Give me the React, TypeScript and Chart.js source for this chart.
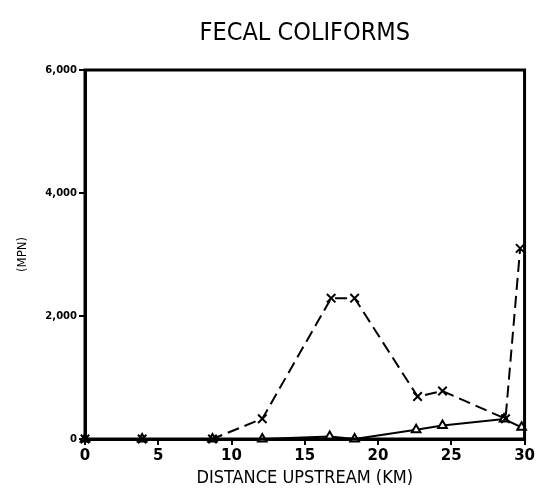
import React, { useEffect, useRef } from "react";
import { Chart, registerables } from "chart.js";

Chart.register(...registerables);

const titleText = "FECAL COLIFORMS";
const xTitle = "DISTANCE UPSTREAM (KM)";
const yTitle = "(MPN)";

const crossKm = [0, 3.9, 8.7, 12.1, 16.8, 18.4, 22.7, 24.4, 28.7, 29.7];
const crossMpn = [0, 0, 0, 330, 2290, 2290, 690, 780, 330, 3100];

const triKm = [0, 3.9, 8.7, 12.1, 16.7, 18.4, 22.6, 24.4, 28.6, 29.8];
const triMpn = [0, 0, 0, 0, 40, 0, 150, 220, 325, 190];

const xTicks = [0, 5, 10, 15, 20, 25, 30];
const yTicks = [0, 2000, 4000, 6000];

const boxPlugin = {
  id: "box",
  afterDatasetsDraw(chart: any) {
    const { ctx, chartArea } = chart;
    ctx.save();
    ctx.strokeStyle = "#000";
    ctx.lineWidth = 3;
    ctx.strokeRect(chartArea.left, chartArea.top, chartArea.right - chartArea.left, chartArea.bottom - chartArea.top);
    ctx.restore();
  },
};

export default function App() {
  const ref = useRef<HTMLCanvasElement | null>(null);
  useEffect(() => {
    document.body.style.margin = "0";
    const canvas = ref.current!;
    const chart = new Chart(canvas, {
      type: "line",
      data: {
        datasets: [
          {
            label: "X",
            data: crossKm.map((x, i) => ({ x, y: crossMpn[i] })),
            borderColor: "#000",
            borderWidth: 2,
            borderDash: [12, 6],
            pointStyle: "crossRot",
            pointRadius: 6,
            pointBorderWidth: 2,
            pointBorderColor: "#000",
            pointBackgroundColor: "#fff",
            tension: 0,
            clip: false,
          },
          {
            label: "Triangle",
            data: triKm.map((x, i) => ({ x, y: triMpn[i] })),
            borderColor: "#000",
            borderWidth: 2,
            pointStyle: "triangle",
            pointRadius: 5,
            pointBorderWidth: 2,
            pointBorderColor: "#000",
            pointBackgroundColor: "#fff",
            tension: 0,
            clip: false,
          },
        ],
      },
      options: {
        animation: false,
        responsive: false,
        maintainAspectRatio: false,
        layout: { padding: { left: 0, right: 10, top: 0, bottom: 0 } },
        plugins: {
          legend: { display: false },
          tooltip: { enabled: false },
          title: {
            display: true,
            text: titleText,
            fullSize: false,
            color: "#000",
            font: { family: "'DejaVu Sans Condensed', 'DejaVu Sans'", size: 25, weight: "normal", lineHeight: 1.2 },
            padding: { top: 18, bottom: 22 },
          },
        },
        scales: {
          x: {
            type: "linear",
            min: 0,
            max: 30,
            afterBuildTicks: (s: any) => {
              s.ticks = xTicks.map((v) => ({ value: v }));
            },
            afterFit: (s: any) => {
              s.height = 57;
            },
            ticks: {
              color: "#000",
              font: { family: "'DejaVu Sans'", size: 15, weight: "bold" },
              padding: 2,
              maxRotation: 0,
            },
            grid: { display: true, drawOnChartArea: false, drawTicks: true, tickLength: 6, color: "#000", lineWidth: 2 },
            border: { display: true, color: "#000", width: 3 },
            title: {
              display: true,
              text: xTitle,
              color: "#000",
              font: { family: "'DejaVu Sans Condensed', 'DejaVu Sans'", size: 18, weight: "normal", lineHeight: 1.2 },
              padding: { top: 7, bottom: 7 },
            },
          },
          y: {
            type: "linear",
            min: 0,
            max: 6000,
            afterBuildTicks: (s: any) => {
              s.ticks = yTicks.map((v) => ({ value: v }));
            },
            afterFit: (s: any) => {
              s.width = 85;
            },
            ticks: {
              color: "#000",
              font: { family: "'DejaVu Sans'", size: 10, weight: "bold" },
              padding: 2,
              callback: (v: any) => Number(v).toLocaleString("en-US"),
            },
            grid: { display: true, drawOnChartArea: false, drawTicks: true, tickLength: 6, color: "#000", lineWidth: 2 },
            border: { display: true, color: "#000", width: 3 },
            title: {
              display: true,
              text: yTitle,
              color: "#000",
              font: { family: "'DejaVu Sans Condensed', 'DejaVu Sans'", size: 13, weight: "normal", lineHeight: 1.2 },
              padding: { top: 15, bottom: 0 },
            },
          },
        },
      },
      plugins: [boxPlugin],
    });
    return () => chart.destroy();
  }, []);
  return (
    <div style={{ position: "absolute", left: 0, top: 0, width: 537, height: 496, background: "#fff" }}>
      <canvas ref={ref} width={537} height={496} style={{ width: 537, height: 496 }} />
    </div>
  );
}
